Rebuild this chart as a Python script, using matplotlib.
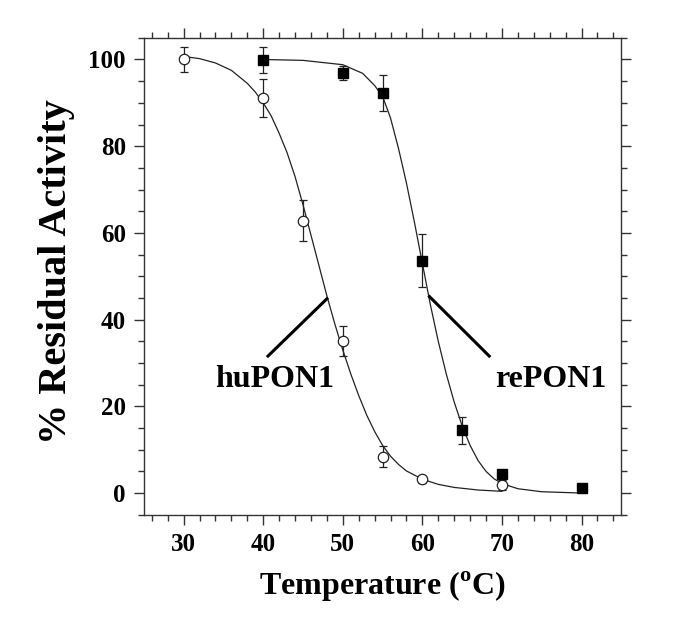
import matplotlib
matplotlib.use("Agg")
import matplotlib.pyplot as plt
from matplotlib.ticker import MultipleLocator

plt.rcParams['font.family'] = ['Liberation Serif', 'DejaVu Serif']
plt.rcParams['font.weight'] = 'bold'
plt.rcParams['mathtext.fontset'] = 'custom'
plt.rcParams['mathtext.rm'] = 'Liberation Serif:bold'

# measured points
hu_temp = [30, 40, 45, 50, 55, 60, 70]
hu_act = [100, 91.2, 62.8, 35.1, 8.4, 3.2, 1.8]
hu_err = [2.9, 4.4, 4.7, 3.5, 2.5, 0.8, 1.2]

re_temp = [40, 50, 55, 60, 65, 70, 80]
re_act = [99.9, 96.9, 92.3, 53.6, 14.5, 4.5, 1.2]
re_err = [3.0, 1.7, 4.1, 6.1, 3.1, 0, 0]

# fitted curves
hu_fit_x = [30, 32, 34, 36, 38, 39, 40, 41, 42, 43, 44, 45, 46, 47, 48, 49, 50,
            51, 52, 53, 54, 55, 56, 57, 58, 60, 62, 64, 67, 70]
hu_fit_y = [100.7, 100.2, 99.2, 97.5, 94.5, 92.5, 90, 87, 83, 78.5, 73, 66.5, 59.5,
            52.5, 45.5, 39, 33, 27.5, 22.5, 18, 14.2, 11, 8.5, 6.6, 5.1, 3.2, 2,
            1.3, 0.7, 0.4]

re_fit_x = [40, 45, 50, 52.5, 54, 55, 56, 57, 58, 59, 60, 61, 62, 63, 64, 65, 66,
            67, 68, 69, 70, 72, 75, 80]
re_fit_y = [100, 99.8, 98.8, 96.8, 94, 91.5, 86.5, 79.5, 71.5, 62.5, 53, 43.5, 35,
            27.5, 21, 15.5, 11, 7.5, 5, 3.3, 2.2, 1, 0.3, 0]

fig = plt.figure(figsize=(6.85, 6.41), dpi=100)
ax = fig.add_axes([0.210, 0.197, 0.697, 0.744])

ax.plot(hu_fit_x, hu_fit_y, color='#222222', lw=0.9)
ax.plot(re_fit_x, re_fit_y, color='#222222', lw=0.9)

ax.errorbar(hu_temp, hu_act, yerr=hu_err, fmt='o', mfc='white', mec='#222222',
            mew=0.9, ms=7.5, ecolor='#222222', elinewidth=0.9, capsize=3, capthick=0.9)
ax.errorbar(re_temp, re_act, yerr=re_err, fmt='s', mfc='black', mec='black',
            ms=7.5, ecolor='#222222', elinewidth=0.9, capsize=3, capthick=0.9)

# labels with pointer lines
ax.plot([40.6, 48.0], [31.6, 44.8], color='black', lw=2.2)
ax.plot([60.9, 68.4], [45.3, 31.6], color='black', lw=2.2)
ax.text(41.5, 26.3, 'huPON1', ha='center', va='center', fontsize=23, fontweight='bold')
ax.text(76.1, 26.3, 'rePON1', ha='center', va='center', fontsize=23, fontweight='bold')

ax.set_xlim(25, 85)
ax.set_ylim(-5, 105)
ax.xaxis.set_major_locator(MultipleLocator(10))
ax.xaxis.set_minor_locator(MultipleLocator(2))
ax.yaxis.set_major_locator(MultipleLocator(20))
ax.yaxis.set_minor_locator(MultipleLocator(5))
ax.tick_params(which='both', direction='out', top=True, right=True, color='#333333')
ax.tick_params(which='major', length=7, width=1, labelsize=18, pad=6)
ax.tick_params(which='minor', length=4, width=1)
for s in ax.spines.values():
    s.set_color('#333333')
    s.set_linewidth(1)

ax.set_xlabel(r'Temperature ($^{\mathrm{o}}$C)', fontsize=23, fontweight='bold', labelpad=10)
ax.set_ylabel('% Residual Activity', fontsize=29, fontweight='bold')
ax.yaxis.set_label_coords(-0.145, 0.51)

fig.savefig('out.png', dpi=100)
